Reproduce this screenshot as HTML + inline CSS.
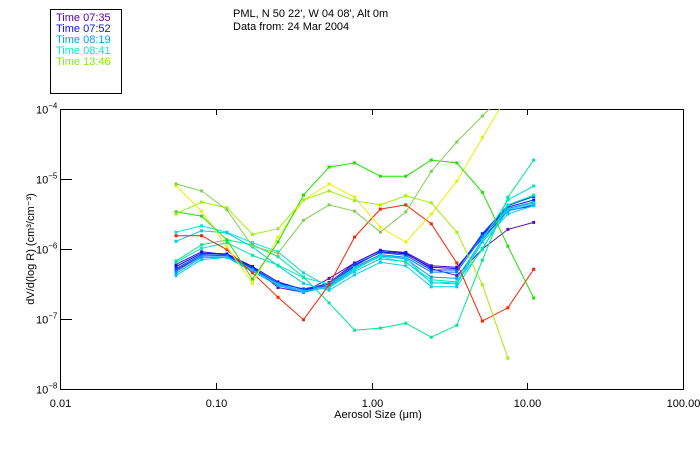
<!DOCTYPE html>
<html><head><meta charset="utf-8"><style>
body{margin:0;background:#fff;}
svg text{font-family:"Liberation Sans",sans-serif;font-size:11px;fill:#000;}
</style></head><body>
<svg id="chart" width="700" height="450" viewBox="0 0 700 450">
<rect x="0" y="0" width="700" height="450" fill="#fff"/>
<g>
<rect x="50.5" y="9.5" width="71" height="84" fill="none" stroke="#000"/>
<text x="56" y="21" style="fill:#6000b0">Time 07:35</text>
<text x="56" y="32" style="fill:#1010f0">Time 07:52</text>
<text x="56" y="43" style="fill:#00a0ff">Time 08:19</text>
<text x="56" y="54" style="fill:#00f0c0">Time 08:41</text>
<text x="56" y="65" style="fill:#80f000">Time 13:46</text>
</g>
<text x="233" y="17">PML, N 50 22', W 04 08', Alt 0m</text>
<text x="233" y="30">Data from: 24 Mar 2004</text>
<g id="axes"></g>
<g id="series"></g>
<text x="378" y="418" text-anchor="middle">Aerosol Size (μm)</text>
<text transform="translate(34,249) rotate(-90)" text-anchor="middle">dV/d(log R) (cm³/cm⁻³)</text>
</svg>
<script>
// size bins (μm), log10 of dV/dlogR per series
const sizes = [0.0556,0.0811,0.118,0.172,0.251,0.366,0.534,0.779,1.14,1.66,2.42,3.53,5.15,7.51,11.0];
const xTicks = [0.01,0.1,1,10,100];
const xTickLabels = ["0.01","0.10","1.00","10.00","100.00"];
const yTicks = [-4,-5,-6,-7,-8];
const seriesColors = ["#5a10b0","#3010e0","#1010f0","#0040ff","#0080ff","#00a0ff","#00c8f0","#00e0e0","#00d0f0","#00e8b0","#00e890","#ff2000","#e8f000","#20e000","#a0f000","#80d050"];
const s1 = [-6.30,-6.10,-6.10,-6.25,-6.55,-6.62,-6.42,-6.20,-6.02,-6.06,-6.28,-6.38,-6.00,-5.72,-5.62];
const s2 = [-6.22,-6.04,-6.08,-6.28,-6.50,-6.60,-6.48,-6.20,-6.02,-6.05,-6.24,-6.26,-5.85,-5.45,-5.38];
const s3 = [-6.25,-6.06,-6.07,-6.25,-6.47,-6.58,-6.52,-6.24,-6.04,-6.07,-6.26,-6.28,-5.80,-5.40,-5.30];
const s4 = [-6.28,-6.08,-6.09,-6.27,-6.49,-6.57,-6.50,-6.22,-6.05,-6.09,-6.30,-6.30,-5.78,-5.38,-5.25];
const s5 = [-6.32,-6.10,-6.10,-6.30,-6.50,-6.60,-6.52,-6.26,-6.08,-6.12,-6.33,-6.33,-5.82,-5.42,-5.33];
const s6 = [-6.35,-6.12,-6.12,-6.32,-6.52,-6.62,-6.54,-6.28,-6.10,-6.14,-6.40,-6.42,-5.87,-5.46,-5.36];
const s7 = [-6.38,-6.15,-6.12,-6.30,-6.50,-6.60,-6.55,-6.32,-6.14,-6.18,-6.48,-6.50,-5.90,-5.50,-5.38];
const s8 = [-5.76,-5.67,-5.76,-5.91,-6.04,-6.34,-6.54,-6.30,-6.09,-6.13,-6.49,-6.47,-5.87,-5.30,-5.10];
const s9 = [-5.89,-5.74,-5.77,-5.97,-6.24,-6.49,-6.59,-6.37,-6.19,-6.24,-6.54,-6.54,-5.99,-5.44,-5.34];
const s10 = [-6.19,-5.99,-5.91,-6.09,-6.23,-6.41,-6.50,-6.27,-6.11,-6.19,-6.44,-6.47,-6.01,-5.37,-5.23];
const s11 = [-6.17,-5.94,-5.87,-5.94,-6.11,-6.40,-6.77,-7.16,-7.13,-7.06,-7.26,-7.09,-6.16,-5.26,-4.73];
const s12 = [-5.81,-5.81,-6.01,-6.34,-6.69,-7.01,-6.51,-5.83,-5.43,-5.37,-5.64,-6.20,-7.03,-6.84,-6.29];
const s13 = [-5.10,-5.46,-5.97,-6.49,-5.83,-5.30,-5.07,-5.26,-5.69,-5.90,-5.50,-5.03,-4.41,-3.80,-3.44];
const s14 = [-5.47,-5.53,-5.87,-6.43,-5.90,-5.23,-4.83,-4.77,-4.96,-4.96,-4.73,-4.77,-5.19,-5.96,-6.70];
const s15 = [-5.50,-5.33,-5.41,-5.79,-5.71,-5.30,-5.17,-5.31,-5.37,-5.24,-5.34,-5.76,-6.51,-7.56,null];
const s16 = [-5.07,-5.17,-5.44,-5.96,-6.06,-5.59,-5.37,-5.46,-5.76,-5.47,-4.89,-4.47,-4.10,-3.73,-3.37];
const allSeries = [s1,s2,s3,s4,s5,s6,s7,s8,s9,s10,s11,s12,s13,s14,s15,s16];

const X0=60,X1=683,Y0=109,Y1=389;
function xs(v){return X0+(Math.log10(v)+2)/4*(X1-X0);}
function ys(l){return Y0+(-4-l)/4*(Y1-Y0);}
const NS="http://www.w3.org/2000/svg";
function mk(t,a,p){const e=document.createElementNS(NS,t);for(const k in a)e.setAttribute(k,a[k]);p.appendChild(e);return e;}
const svg=document.getElementById('chart');
const defs=mk('defs',{},svg);
const cp=mk('clipPath',{id:'clip'},defs);
mk('rect',{x:X0,y:Y0,width:X1-X0,height:Y1-Y0},cp);
const axes=document.getElementById('axes');
const frame=mk('rect',{x:X0+0.5,y:Y0+0.5,width:X1-X0,height:Y1-Y0,fill:'none',stroke:'#000'},axes);


xTicks.forEach((v,i)=>{
  const x=Math.round(xs(v))+0.5;
  const t1=mk('line',{x1:x,x2:x,y1:Y1,y2:Y1-6,stroke:'#000'},axes);
  
  
  const t2=mk('line',{x1:x,x2:x,y1:Y0,y2:Y0+6,stroke:'#000'},axes);
  
  
  const tx=mk('text',{x:x,y:Y1+18,'text-anchor':'middle'},axes);
  tx.textContent=xTickLabels[i];
  
  
});
yTicks.forEach(l=>{
  const y=Math.round(ys(l))+0.5;
  const t=mk('line',{x1:X0,x2:X0+12,y1:y,y2:y,stroke:'#000'},axes);
  
  
  const tx=mk('text',{x:36,y:y+4},axes);
  
  
  tx.appendChild(document.createTextNode('10'));
  const sp=mk('tspan',{dy:-5,'font-size':'8px'},tx);
  sp.textContent=String(l).replace('-','−');
});
const sg=document.getElementById('series');
sg.setAttribute('clip-path','url(#clip)');
allSeries.forEach((s,si)=>{
  const g=mk('g',{},sg);
  
  
  const pts=[];
  s.forEach((l,i)=>{if(l!==null)pts.push([xs(sizes[i]),ys(l)]);});
  const pl=mk('polyline',{points:pts.map(p=>p[0].toFixed(1)+','+p[1].toFixed(1)).join(' '),fill:'none',stroke:seriesColors[si],'stroke-width':1},g);
  
  
  pts.forEach(p=>{
    const r=mk('rect',{x:p[0]-1.5,y:p[1]-1.5,width:3,height:3,fill:seriesColors[si]},g);
    
    
  });
});
</script>
</body></html>
